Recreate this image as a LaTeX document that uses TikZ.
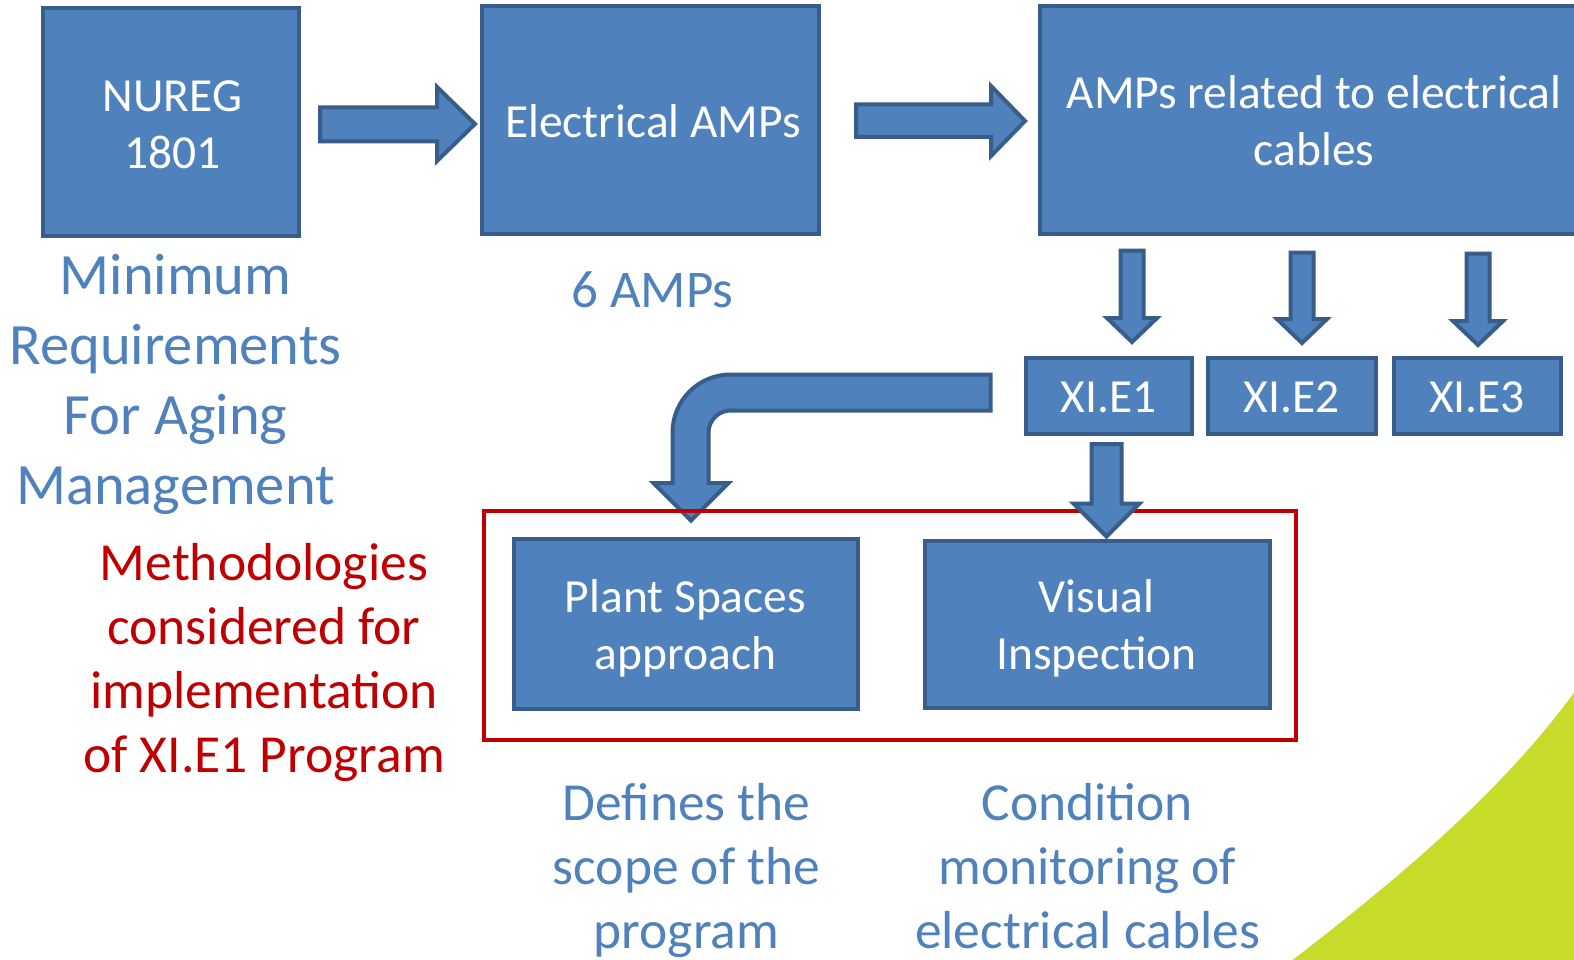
\documentclass[tikz,border=0pt]{standalone}
\usepackage{fontspec}
\setmainfont{Carlito}
\definecolor{boxfill}{HTML}{4F81BD}
\definecolor{boxline}{HTML}{385D8A}
\definecolor{txtblue}{HTML}{4F81BD}
\definecolor{txtred}{HTML}{C00000}
\definecolor{leaf}{HTML}{C8DA2A}
\tikzset{
  box/.style={draw=boxline, fill=boxfill, line width=4pt, inner sep=0pt},
  boxtext/.style={text=white, align=center, inner sep=0pt, font=\fontsize{47.5}{57}\selectfont},
  blockarrow/.style={draw=boxline, fill=boxfill, line width=4pt, line join=miter},
  note/.style={align=center, inner sep=0pt},
  groupbox/.style={draw=txtred, line width=4pt, inner sep=0pt},
}
\begin{document}
\begin{tikzpicture}[x=1pt,y=-1pt]
\useasboundingbox (0,0) rectangle (1574,960);
\clip (0,0) rectangle (1574,960);
\fill[white] (0,0) rectangle (1574,960);
% green decoration bottom right
\fill[leaf] (1290,962) .. controls (1390,885) and (1500,795) .. (1576,690) -- (1576,962) -- cycle;

% boxes
\node[box, minimum width=256, minimum height=228] (nureg) at (170.5,122.5) {};
\node[boxtext] (nuregT) at ([xshift=2pt,yshift=-2pt]nureg.center) {NUREG\\1801};
\node[box, minimum width=337, minimum height=228] (elec) at (650,120.5) {};
\node[boxtext] (elecT) at ([xshift=3pt,yshift=-1pt]elec.center) {Electrical AMPs};
\node[box, minimum width=540, minimum height=228] (cables) at (1309.5,120.5) {};
\node[boxtext] (cablesT) at ([xshift=4.5pt,yshift=-0.5pt]cables.center) {AMPs related to electrical\\cables};
\node[box, minimum width=166, minimum height=76] (e1) at (1108.5,395.5) {};
\node[boxtext] (e1T) at ([yshift=-1.5pt]e1.center) {XI.E1};
\node[box, minimum width=168, minimum height=76] (e2) at (1291.5,395.5) {};
\node[boxtext] (e2T) at ([yshift=-1.5pt]e2.center) {XI.E2};
\node[box, minimum width=167, minimum height=76] (e3) at (1477,395.5) {};
\node[boxtext] (e3T) at ([yshift=-1.5pt]e3.center) {XI.E3};

% right block arrows
\path[blockarrow] (320,107.5) -- (437,107.5) -- (437,87) -- (475,124) -- (437,161) -- (437,141.5) -- (320,141.5) -- cycle;
\path[blockarrow] (856,104.5) -- (991,104.5) -- (991,86) -- (1025,121) -- (991,156) -- (991,137) -- (856,137) -- cycle;

% down arrows to XI boxes
\foreach \cx/\top/\hd in {1132/250.5/318, 1302/252.5/319, 1478/253.5/321}{
  \path[blockarrow] (\cx-11.5,\top) -- (\cx+11.5,\top) -- (\cx+11.5,\hd) -- (\cx+25,\hd)
     -- (\cx,\hd+24) -- (\cx-25,\hd) -- (\cx-11.5,\hd) -- cycle;
}

% curved arrow from XI.E1 to Plant Spaces
\path[blockarrow] (990.5,374.5) -- (730.5,374.5)
  .. controls (698.5,374.5) and (672.5,400.5) .. (672.5,432.5)
  -- (672.5,483) -- (653.5,483) -- (691,520.5) -- (728.5,483) -- (708.5,483)
  -- (708.5,432.5) .. controls (708.5,420.5) and (718.5,410.5) .. (730.5,410.5)
  -- (990.5,410.5) -- cycle;

% group box
\node[groupbox, minimum width=812, minimum height=229] (grp) at (890,625.5) {};

% arrow down to Visual Inspection
\path[blockarrow] (1091.5,444) -- (1121.5,444) -- (1121.5,503.5) -- (1139.5,503.5)
  -- (1106.5,536.5) -- (1073.5,503.5) -- (1091.5,503.5) -- cycle;

\node[box, minimum width=344, minimum height=170] (plant) at (685.5,623.5) {};
\node[boxtext] (plantT) at ([yshift=-4.5pt]plant.center) {Plant Spaces\\approach};
\node[box, minimum width=345, minimum height=167] (visual) at (1097,624) {};
\node[boxtext] (visualT) at ([xshift=-0.5pt,yshift=-4pt]visual.center) {Visual\\Inspection};

% texts
\node[note, text=txtblue, font=\fontsize{58.5}{70}\selectfont] (minreq) at (175.5,384)
  {Minimum\\Requirements\\For Aging\\Management};
\node[note, text=txtblue, font=\fontsize{53}{62}\selectfont] (six) at (652.5,290) {6 AMPs};
\node[note, text=txtred, font=\fontsize{53.5}{64}\selectfont] (meth) at (264,662.5)
  {Methodologies\\considered for\\implementation\\of XI.E1 Program};
\node[note, text=txtblue, font=\fontsize{53.5}{64}\selectfont] (defines) at (686.5,871)
  {Defines the\\scope of the\\program};
\node[note, text=txtblue, font=\fontsize{53.5}{64}\selectfont] (cond) at (1087.5,866.5)
  {Condition\\monitoring of\\electrical cables};
\end{tikzpicture}
\end{document}
